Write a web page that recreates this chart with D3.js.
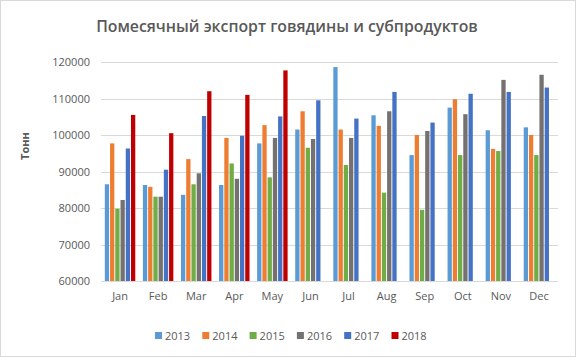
<!DOCTYPE html>
<html><head><meta charset="utf-8">
<script src="https://cdn.jsdelivr.net/npm/d3@7"></script>
<style>body{margin:0;background:#fff}svg{display:block}</style>
</head><body>
<svg id="c" width="576" height="358"></svg>
<script>
const months = ["Jan","Feb","Mar","Apr","May","Jun","Jul","Aug","Sep","Oct","Nov","Dec"];
const years = ["2013","2014","2015","2016","2017","2018"];
const v2013 = [86500, 86300, 83600, 86300, 97700, 101500, 118600, 105400, 94500, 107500, 101300, 102100];
const v2014 = [97700, 85800, 93400, 99200, 102700, 106500, 101500, 102500, 100000, 109800, 96200, 100000];
const v2015 = [79800, 83100, 86500, 92200, 88400, 96500, 91800, 84200, 79500, 94500, 95600, 94500];
const v2016 = [82200, 83100, 89500, 88000, 99200, 98900, 99200, 106500, 101100, 105700, 115100, 116500];
const v2017 = [96300, 90500, 105200, 99800, 105100, 109500, 104500, 111800, 103400, 111300, 111800, 113000];
const v2018 = [105500, 100500, 112000, 111000, 117700, null, null, null, null, null, null, null];
const yTicks = [60000, 70000, 80000, 90000, 100000, 110000, 120000];
const colors = ["#5B9BD5","#ED7D31","#70AD47","#767171","#4472C4","#C00000"];
const series = [v2013, v2014, v2015, v2016, v2017, v2018];

const svg = d3.select("#c");
const font = "'Open Sans', sans-serif";
svg.append("rect").attr("x",0.5).attr("y",0.5).attr("width",575).attr("height",356)
  .attr("fill","#fff").attr("stroke","#d9d9d9");

const L = 101, R = 558, T = 62, B = 281;
const y = d3.scaleLinear().domain([60000,120000]).range([B,T]);
const x0 = d3.scaleBand().domain(months).range([L,R]).paddingInner(0.2).paddingOuter(0.1);
const x1 = d3.scaleBand().domain(years).range([0,x0.bandwidth()]).paddingInner(0.18);

// grid
svg.append("g").selectAll("line").data(yTicks).join("line")
  .attr("x1",L).attr("x2",R).attr("y1",d=>Math.round(y(d))+0.5).attr("y2",d=>Math.round(y(d))+0.5)
  .attr("stroke","#d9d9d9").attr("stroke-width",1);

// bars
const g = svg.append("g");
months.forEach((m,i)=>{
  series.forEach((s,j)=>{
    if (s[i]==null) return;
    g.append("rect").attr("x",x0(m)+x1(years[j])).attr("width",x1.bandwidth())
      .attr("y",y(s[i])).attr("height",B-y(s[i])).attr("fill",colors[j]);
  });
});

// y axis labels
const ya = d3.axisLeft(y).tickValues(yTicks).tickSize(0).tickPadding(11).tickFormat(d3.format("d"));
const yg = svg.append("g").attr("transform",`translate(${L},0)`).call(ya);
yg.select(".domain").remove();
yg.selectAll("text").attr("font-family",font).attr("font-size",11).attr("fill","#595959");

// x axis
const xa = d3.axisBottom(x0).tickSize(0).tickPadding(11);
const xg = svg.append("g").attr("transform",`translate(0,${B})`).call(xa);
xg.select(".domain").remove();
xg.selectAll("text").attr("font-family",font).attr("font-size",11).attr("fill","#595959");

// title
svg.append("text").attr("x",287).attr("y",32).attr("text-anchor","middle")
  .attr("font-family",font).attr("font-size",15.8).attr("font-weight",600).attr("fill","#595959")
  .text("Помесячный экспорт говядины и субпродуктов");

// y title
svg.append("text").attr("transform","translate(29,146) rotate(-90)").attr("text-anchor","middle")
  .attr("font-family",font).attr("font-size",11).attr("font-weight",700).attr("fill","#595959")
  .text("Тонн");

// legend
const lg = svg.append("g");
years.forEach((yr,j)=>{
  const lx = 155 + j*47.3;
  lg.append("rect").attr("x",lx).attr("y",332).attr("width",7).attr("height",7).attr("fill",colors[j]);
  lg.append("text").attr("x",lx+10).attr("y",340).attr("font-family",font).attr("font-size",11)
    .attr("fill","#595959").text(yr);
});
</script>
</body></html>
